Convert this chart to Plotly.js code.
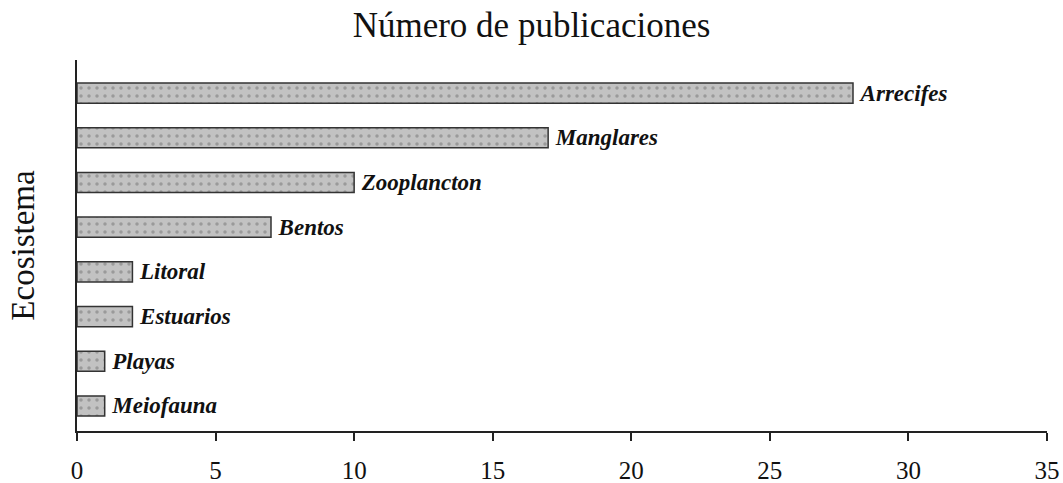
<!DOCTYPE html>
<html>
<head>
<meta charset="utf-8">
<script src="https://cdn.plot.ly/plotly-3.0.1.min.js"></script>
<style>
  html, body { margin: 0; padding: 0; background: #fff; }
  #chart { width: 1063px; height: 483px; }
</style>
</head>
<body>
<div id="chart"></div>
<script>
// categories listed bottom to top
const ecosistemas = ['Meiofauna', 'Playas', 'Estuarios', 'Litoral', 'Bentos', 'Zooplancton', 'Manglares', 'Arrecifes'];
const publicaciones = [1, 1, 2, 2, 7, 10, 17, 28];
const xTicks = [0, 5, 10, 15, 20, 25, 30, 35];

const serif = 'Liberation Serif, Times New Roman, serif';

const trace = {
  type: 'bar',
  orientation: 'h',
  y: ecosistemas.map((_, i) => i),
  x: publicaciones,
  width: 0.45,
  // thin space keeps the label a few px off the bar end
  text: ecosistemas.map(e => '\u2009' + e),
  textposition: 'outside',
  constraintext: 'none',
  cliponaxis: false,
  textfont: { family: serif, size: 23, color: '#111', style: 'italic', weight: 'bold' },
  marker: {
    color: '#bdbdbd',
    pattern: { shape: '.', bgcolor: '#c2c2c2', fgcolor: '#9a9a9a', size: 8, solidity: 0.15 },
    line: { color: '#333', width: 1.5 },
  },
  hoverinfo: 'none',
};

const layout = {
  width: 1063,
  height: 483,
  margin: { l: 77, r: 16, t: 60, b: 52 },
  paper_bgcolor: '#fff',
  plot_bgcolor: '#fff',
  showlegend: false,
  font: { family: serif, color: '#111' },
  title: {
    text: 'Número de publicaciones',
    font: { family: serif, size: 35, color: '#111' },
    x: 0.5, xanchor: 'center',
    y: 0.948, yanchor: 'middle',
  },
  xaxis: {
    range: [0, 35],
    tickvals: xTicks,
    ticktext: xTicks.map(String),
    ticks: 'outside',
    ticklen: 8,
    tickwidth: 2,
    tickcolor: '#222',
    showline: true,
    linecolor: '#222',
    linewidth: 2,
    showgrid: false,
    zeroline: false,
    tickfont: { family: serif, size: 25, color: '#111' },
    ticklabelstandoff: 8,
  },
  yaxis: {
    range: [-0.56, 7.74],
    showticklabels: false,
    ticks: '',
    showline: true,
    linecolor: '#222',
    linewidth: 2,
    showgrid: false,
    zeroline: false,
    title: {
      text: 'Ecosistema',
      font: { family: serif, size: 33, color: '#111' },
      standoff: 30,
    },
  },
};

Plotly.newPlot('chart', [trace], layout, { displayModeBar: false, staticPlot: true });
</script>
</body>
</html>
